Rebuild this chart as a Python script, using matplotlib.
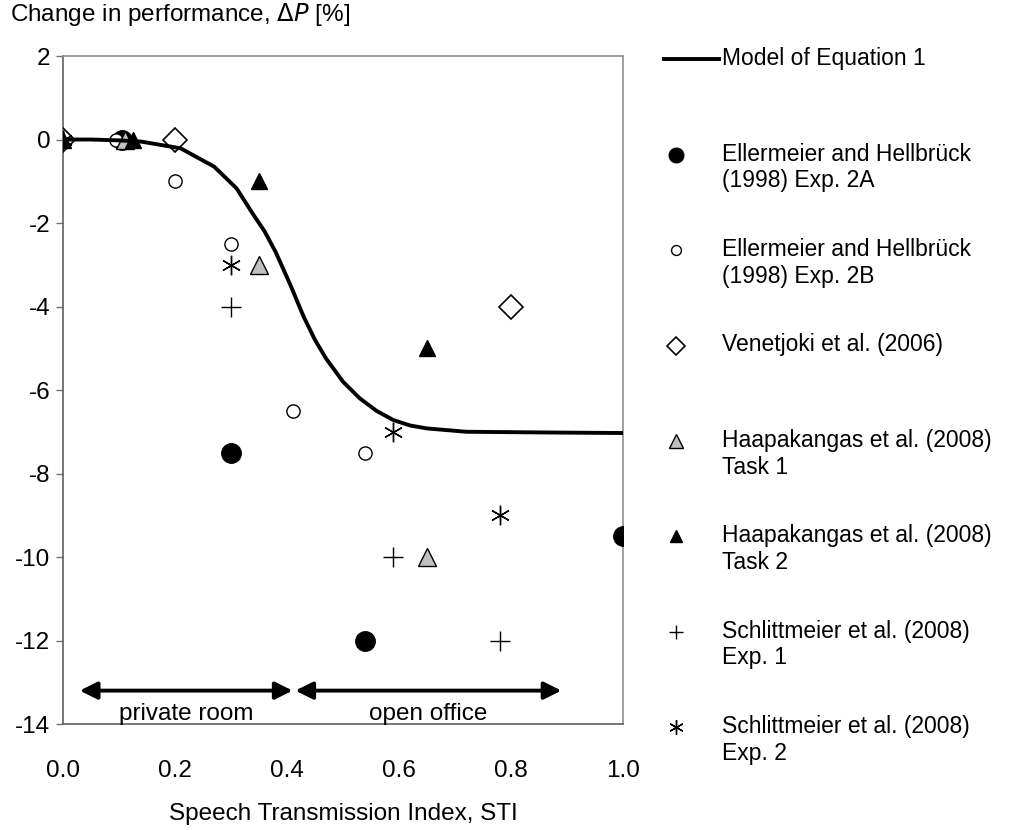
import numpy as np
import matplotlib
matplotlib.use("Agg")
import matplotlib.pyplot as plt
from matplotlib.legend_handler import HandlerLine2D
from matplotlib.lines import Line2D

plt.rcParams['font.family'] = ['Liberation Sans', 'DejaVu Sans']

# model curve
model_sti = [0.00, 0.05, 0.10, 0.14, 0.21, 0.27, 0.31, 0.34, 0.36, 0.38, 0.405,
             0.43, 0.45, 0.47, 0.50, 0.53, 0.56, 0.59, 0.62, 0.65, 0.72, 0.89, 1.00]
model_dp = [0.0, 0.0, -0.02, -0.05, -0.21, -0.65, -1.17, -1.8, -2.2, -2.7, -3.45,
            -4.25, -4.8, -5.25, -5.8, -6.2, -6.5, -6.72, -6.85, -6.92, -7.0, -7.02, -7.03]

# studies
ell2a_sti = [0.105, 0.30, 0.54, 1.00]
ell2a_dp = [0.0, -7.5, -12.0, -9.5]
ell2b_sti = [0.095, 0.20, 0.30, 0.41, 0.54]
ell2b_dp = [0.0, -1.0, -2.5, -6.5, -7.5]
ven_sti = [0.00, 0.20, 0.80]
ven_dp = [0.0, 0.0, -4.0]
haa1_sti = [0.11, 0.35, 0.65]
haa1_dp = [0.0, -3.0, -10.0]
haa2_sti = [0.00, 0.125, 0.35, 0.65]
haa2_dp = [0.0, 0.0, -1.0, -5.0]
sch1_sti = [0.00, 0.30, 0.59, 0.78]
sch1_dp = [0.0, -4.0, -10.0, -12.0]
sch2_sti = [0.00, 0.30, 0.59, 0.78]
sch2_dp = [0.0, -3.0, -7.0, -9.0]

# office type ranges (STI)
region_names = ["private room", "open office"]
region_from = [0.03, 0.415]
region_to = [0.41, 0.89]
region_y = -13.2

xticks = [0.0, 0.2, 0.4, 0.6, 0.8, 1.0]
yticks = [2, 0, -2, -4, -6, -8, -10, -12, -14]

FS = 17.5
LEG_FS = 16.5


class FirstLineHandler(HandlerLine2D):
    """put the marker next to the first line of a two line label"""
    def create_artists(self, legend, orig_handle, xdescent, ydescent,
                       width, height, fontsize, trans):
        arts = super().create_artists(legend, orig_handle, xdescent, ydescent,
                                      width, height, fontsize, trans)
        for a in arts:
            a.set_ydata(np.asarray(a.get_ydata()) + 0.6 * fontsize)
            if orig_handle.get_linestyle() in ("None", "none", "", " "):
                a.set_xdata(np.asarray(a.get_xdata()) - 11)
        return arts


fig = plt.figure(figsize=(10.14, 8.30), dpi=100)
ax = fig.add_axes([0.0621, 0.1277, 0.5523, 0.8048])

ax.plot(model_sti, model_dp, color="black", lw=2.8, zorder=5,
        label="Model of Equation 1\n ")

ax.plot(ell2a_sti, ell2a_dp, ls="none", marker="o", ms=14, mfc="black",
        mec="black", zorder=3, label="Ellermeier and Hellbrück\n(1998) Exp. 2A")
ax.plot(ell2b_sti, ell2b_dp, ls="none", marker="o", ms=9.5, mfc="white",
        mec="black", mew=1.0, zorder=3, label="Ellermeier and Hellbrück\n(1998) Exp. 2B")
ax.plot(ven_sti, ven_dp, ls="none", marker="D", ms=12, mfc="white",
        mec="black", mew=1.2, zorder=3, label="Venetjoki et al. (2006)\n ")
ax.plot(haa1_sti, haa1_dp, ls="none", marker="^", ms=13, mfc="#c0c0c0",
        mec="black", mew=1.0, zorder=3, label="Haapakangas et al. (2008)\nTask 1")
ax.plot(haa2_sti, haa2_dp, ls="none", marker="^", ms=12, mfc="black",
        mec="black", zorder=3, label="Haapakangas et al. (2008)\nTask 2")
ax.plot(sch1_sti, sch1_dp, ls="none", marker="+", ms=14, mec="black",
        mew=1.0, zorder=3, label="Schlittmeier et al. (2008)\nExp. 1")
ax.plot(sch2_sti, sch2_dp, ls="none", marker=(6, 2, 0), ms=14, mec="black",
        mew=1.0, zorder=3, label="Schlittmeier et al. (2008)\nExp. 2")

# office ranges
for name, x0, x1 in zip(region_names, region_from, region_to):
    ax.annotate("", xy=(x1, region_y), xytext=(x0, region_y),
                arrowprops=dict(arrowstyle="<|-|>", color="black", lw=2.8,
                                mutation_scale=26, shrinkA=0, shrinkB=0))
    ax.text((x0 + x1) / 2, region_y - 0.55, name, ha="center", va="center",
            fontsize=FS)

ax.set_xlim(0, 1.0)
ax.set_ylim(-14, 2)
ax.set_xticks(xticks)
ax.set_xticklabels([f"{v:.1f}" for v in xticks], fontsize=FS)
ax.set_yticks(yticks)
ax.set_yticklabels([str(v) for v in yticks], fontsize=FS)
ax.tick_params(axis="x", length=0, pad=26)
ax.tick_params(axis="y", direction="out", length=5, width=1, color="#707070", pad=4)

for s in ["top", "right"]:
    ax.spines[s].set_color("#909090")
for s in ["left", "bottom"]:
    ax.spines[s].set_color("#606060")
for s in ax.spines.values():
    s.set_linewidth(1.2)

ax.set_xlabel("Speech Transmission Index, STI", fontsize=FS, labelpad=15)
fig.text(0.01, 0.983, r"Change in performance, $\Delta P$ [%]", fontsize=FS,
         ha="left", va="center", math_fontfamily="dejavusans")

handles, labels = ax.get_legend_handles_labels()
fig.legend(handles, labels, loc="upper left", bbox_to_anchor=(0.634, 0.968),
           frameon=False, fontsize=LEG_FS, numpoints=1, handlelength=2.4,
           handletextpad=0.15, labelspacing=2.0, markerscale=0.75,
           handler_map={Line2D: FirstLineHandler()})

fig.savefig("out.png", dpi=100, facecolor="white")
